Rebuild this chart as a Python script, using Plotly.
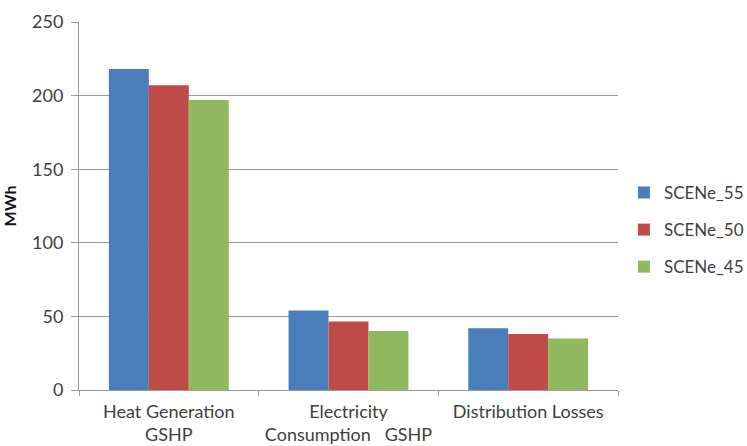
import plotly.graph_objects as go

categories = ["Heat Generation<br>GSHP", "Electricity<br>Consumption   GSHP", "Distribution Losses"]
series_names = ["SCENe_55", "SCENe_50", "SCENe_45"]
scene_55 = [218, 54, 42]
scene_50 = [207, 46.5, 38]
scene_45 = [197, 40, 35]
colors = ["#4a7ebb", "#be4b48", "#8fb85f"]
y_ticks = [0, 50, 100, 150, 200, 250]

fig = go.Figure()
for name, vals, col in zip(series_names, [scene_55, scene_50, scene_45], colors):
    fig.add_trace(go.Bar(x=categories, y=vals, name=name, marker_color=col,
                         marker_line_width=0, legendgroup=name))

font_family = "Lato, 'Open Sans', sans-serif"
fig.update_layout(
    width=747, height=446,
    margin=dict(l=79, r=129, t=22, b=56, autoexpand=False),
    paper_bgcolor="white", plot_bgcolor="white",
    barmode="group", bargap=0.333, bargroupgap=0,
    font=dict(family=font_family, color="#404040", size=17),
    legend=dict(x=1.011, y=0.435, xanchor="left", yanchor="middle",
                font=dict(size=17, color="#404040"), tracegroupgap=12,
                itemsizing="constant"),
    showlegend=True,
)
fig.update_yaxes(
    range=[0, 250], tickvals=y_ticks, showgrid=True, gridcolor="#9a9a9a", gridwidth=1,
    showline=True, linecolor="#9a9a9a", linewidth=1, ticks="outside", ticklen=7,
    tickcolor="#9a9a9a", tickfont=dict(size=18, color="#404040"), zeroline=False,
    ticklabelstandoff=4, automargin=False,
    title=dict(text="<b>MWh</b>", font=dict(size=16, color="#111111"), standoff=14),
)
fig.update_xaxes(
    showline=True, linecolor="#9a9a9a", linewidth=1, ticks="outside", ticklen=5,
    tickcolor="#9a9a9a", tickson="boundaries", tickfont=dict(size=18, color="#404040"),
    ticklabelstandoff=5, tickangle=0, automargin=False,
)
fig.write_html("out.html")
